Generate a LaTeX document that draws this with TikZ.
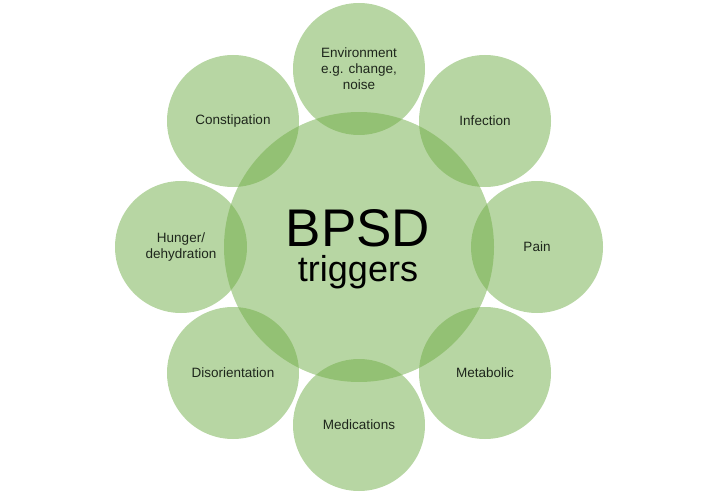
\documentclass[tikz,border=0pt]{standalone}
\usepackage{fontspec}
\setmainfont{Liberation Sans}
\definecolor{leafgreen}{HTML}{70AD47}
\definecolor{inkgray}{HTML}{1E261C}

\begin{document}
\begin{tikzpicture}[x=1pt,y=1pt,
  hub/.style={circle,fill=leafgreen,fill opacity=0.5,minimum size=270pt,inner sep=0pt},
  trigger/.style={circle,fill=leafgreen,fill opacity=0.5,text opacity=1,minimum size=132pt,inner sep=0pt,
    align=center,text=inkgray,font=\fontsize{13.5}{16}\selectfont}]
\useasboundingbox (0,0) rectangle (720,-492);
\node[hub] (center) at (359,-247) {};
\node[trigger] (env) at (359,-69) {Environment\\e.g. change,\\noise};
\node[trigger] (infect) at (485,-121) {Infection};
\node[trigger] (pain) at (537,-247) {Pain};
\node[trigger] (metab) at (485,-373) {Metabolic};
\node[trigger] (meds) at (359,-425) {Medications};
\node[trigger] (disor) at (233,-373) {Disorientation};
\node[trigger] (hunger) at (181,-247) {Hunger/\\dehydration};
\node[trigger] (const) at (233,-121) {Constipation};
\node[align=center,inner sep=0pt,font=\fontsize{36}{35}\selectfont] (title) at (358,-249)
  {{\fontsize{53}{35}\selectfont BPSD}\\triggers};
\end{tikzpicture}
\end{document}
